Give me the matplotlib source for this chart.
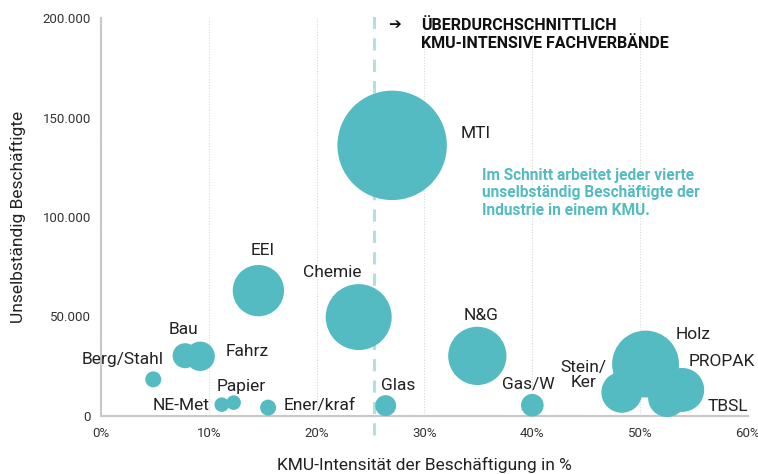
import numpy as np
import matplotlib
matplotlib.use('Agg')
import matplotlib.pyplot as plt
from matplotlib.ticker import FuncFormatter, MultipleLocator

plt.rcParams['font.family'] = ['Roboto', 'DejaVu Sans']

# Fachverbände: KMU-Intensität (%), unselbständig Beschäftigte, Blasengröße
verbaende = ['MTI', 'EEI', 'Chemie', 'Bau', 'Fahrz', 'Berg/Stahl', 'NE-Met', 'Papier',
             'Ener/kraf', 'Glas', 'N&G', 'Gas/W', 'Stein/\nKer', 'Holz', 'PROPAK', 'TBSL']
kmu_intensitaet = [27.0, 14.6, 23.9, 7.8, 9.2, 4.85, 11.2, 12.3,
                   15.5, 26.4, 34.9, 40.0, 48.3, 50.5, 53.9, 52.5]
beschaeftigte = [136000, 63000, 49700, 30300, 30000, 18400, 5700, 6700,
                 4200, 5200, 30200, 5400, 11900, 26100, 13100, 9000]
groesse = [3000, 660, 1090, 156, 216, 64, 53, 53,
           64, 110, 850, 128, 420, 1120, 484, 361]
durchschnitt = 25.3  # durchschnittliche KMU-Intensität der Industrie

# Beschriftung: Versatz in Pixel (dx, dy) und Ausrichtung
label_pos = {
    'MTI': (68, 12, 'left'),
    'EEI': (4, 40, 'center'),
    'Chemie': (-26, 45, 'center'),
    'Bau': (-2, 26, 'center'),
    'Fahrz': (25, 5, 'left'),
    'Berg/Stahl': (-31, 20, 'center'),
    'NE-Met': (-12, -1, 'right'),
    'Papier': (8, 16, 'center'),
    'Ener/kraf': (16, 2, 'left'),
    'Glas': (13, 20, 'center'),
    'N&G': (4, 40, 'center'),
    'Gas/W': (-4, 21, 'center'),
    'Stein/\nKer': (-38, 17, 'center'),
    'Holz': (30, 30, 'left'),
    'PROPAK': (6, 28, 'left'),
    'TBSL': (40, -8, 'left'),
}

teal = '#54BBC2'
text_col = '#222222'

fig = plt.figure(figsize=(7.58, 4.74), dpi=100)
ax = fig.add_axes([0.1332, 0.1224, 0.8536, 0.8396])

# Blasen: s in pt^2 (Radius px -> Durchmesser pt)
ax.scatter(kmu_intensitaet, beschaeftigte, s=np.array(groesse) * 2.07,
           color=teal, edgecolors='none', zorder=3, clip_on=False)

for name, x, y in zip(verbaende, kmu_intensitaet, beschaeftigte):
    dx, dy, ha = label_pos[name]
    ax.annotate(name, (x, y), xytext=(dx, dy), textcoords='offset pixels',
                ha=ha, va='center', fontsize=12.5, color=text_col,
                linespacing=1.0, zorder=4)

# Durchschnittslinie
ax.axvline(durchschnitt, ymin=-0.048, ymax=1.013, color='#B3DFE2', lw=2.2,
           dashes=(4, 3), clip_on=False, zorder=2)

ax.set_xlim(0, 60)
ax.set_ylim(0, 200000)
ax.xaxis.set_major_locator(MultipleLocator(10))
ax.yaxis.set_major_locator(MultipleLocator(50000))
ax.xaxis.set_major_formatter(FuncFormatter(lambda v, p: f'{int(v)}%'))
ax.yaxis.set_major_formatter(
    FuncFormatter(lambda v, p: '0' if v == 0 else f'{int(v):,}'.replace(',', '.')))

ax.grid(axis='x', color='#D8D8D8', linestyle=(0, (1, 1.5)), lw=0.8, zorder=0)
ax.set_axisbelow(True)
for side in ['top', 'right']:
    ax.spines[side].set_visible(False)
for side in ['left', 'bottom']:
    ax.spines[side].set_color('#C8C8C8')
    ax.spines[side].set_linewidth(1.5)

ax.tick_params(length=0, labelsize=9.5, labelcolor='#333333')
ax.tick_params(axis='x', pad=8)
ax.tick_params(axis='y', pad=7)

ax.set_xlabel('KMU-Intensität der Beschäftigung in %', fontsize=12.5,
              color=text_col, labelpad=12)
ax.set_ylabel('Unselbständig Beschäftigte', fontsize=12.5, color=text_col,
              labelpad=12)

fig.text(388 / 758, 1 - 25 / 474, '\u2794', fontsize=11, fontweight='bold',
         color='#111111', va='center', ha='left', family=['DejaVu Sans'])
fig.text(421 / 758, 1 - 34.5 / 474, 'ÜBERDURCHSCHNITTLICH\nKMU-INTENSIVE FACHVERBÄNDE',
         fontsize=11.5, fontweight='bold', color='#111111', va='center',
         ha='left', linespacing=1.2)

fig.text(482 / 758, 1 - 193 / 474,
         'Im Schnitt arbeitet jeder vierte\nunselbständig Beschäftigte der\nIndustrie in einem KMU.',
         fontsize=11.2, fontweight='bold', color=teal, va='center', ha='left',
         linespacing=1.2)

fig.savefig('out.png', dpi=100)
